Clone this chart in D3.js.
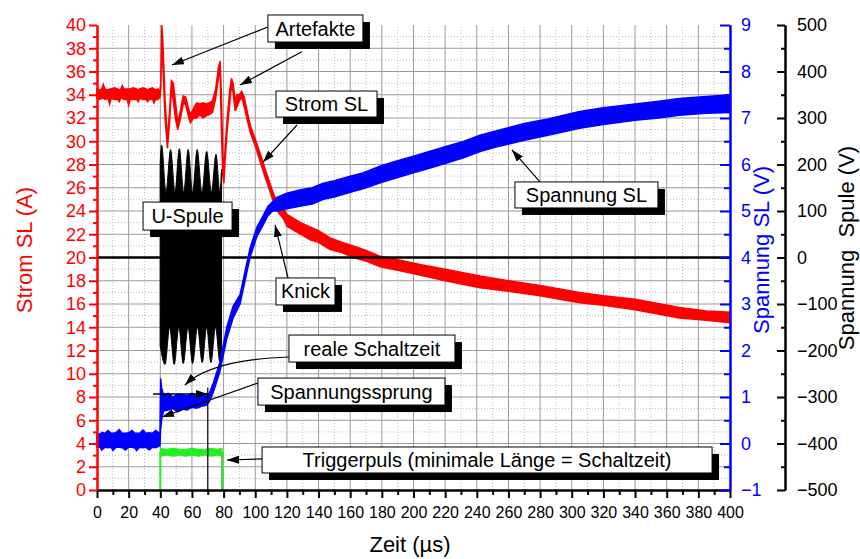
<!DOCTYPE html>
<html>
<head>
<meta charset="utf-8">
<script src="https://cdn.jsdelivr.net/npm/d3@7"></script>
<style>
body { margin: 0; background: #fff; }
text { font-family: "Liberation Sans", Arial, sans-serif; }
</style>
</head>
<body>
<div id="chart"></div>
<script>
// tick values of the four axes
var zeitTicks = d3.range(0, 401, 20);
var zeitMinor = d3.range(10, 400, 20);
var stromTicks = d3.range(0, 41, 2);
var stromMinor = d3.range(1, 40, 2);
var slTicks = d3.range(-1, 10, 1);
var slMinor = d3.range(-0.5, 9, 1);
var spuleTicks = d3.range(-500, 501, 100);
var spuleMinor = d3.range(-450, 500, 100);

// Strom SL (A): [zeit, unten, oben] - band of the noisy trace
var stromSL = [
  [0,33.7,34.5],[1.5,33.6,34.4],[3,33.7,34.5],[4,33.7,34.9],[5,33.6,34.5],[7,33.7,34.4],
  [8,33.2,34.5],[9,33.7,34.5],[11,33.6,34.6],[13,33.6,34.5],[14,33.4,34.4],[15,33.7,34.5],
  [16,33.7,34.8],[17,33.6,34.5],[19,33.6,34.5],[20,33.1,34.5],[21,33.6,34.5],[23,33.6,34.6],
  [25,33.6,34.5],[26,33.4,34.4],[27,33.7,34.5],[29,33.6,34.6],[31,33.6,34.5],[32,33.4,34.4],
  [33,33.6,34.5],[35,33.6,34.6],[36,33.3,34.5],[37,33.6,34.4],[38.5,33.6,34.5],[39.8,33.8,34.3],
  [40.3,34.5,35],[41,38.5,40],[41.8,36,38],[43,32,33.5],[44.5,29.4,30.2],[45.8,31.5,32.5],
  [47,34.5,35.2],[48.2,33.5,35],[49.5,32,33.5],[51,31,31.6],[52.5,31.8,32.5],[54.5,33.2,33.9],
  [56,33.2,33.8],[57.5,32.3,33],[59,31.6,32.3],[61,32,32.8],[63,32,33.3],[65,32.3,33.2],
  [67,32,33.3],[69,32.2,33.2],[71,32.3,33.3],[73,32.5,33.5],[75,33.7,34.5],[76.8,35.5,36.4],
  [77.8,36,36.9],[78.6,31,34],[79.5,27,29],[80.2,26.4,27.2],[81,28.5,29.5],[82.3,31,32],
  [84,33.5,34.5],[85,34.8,35.4],[86,34.2,35],[87.3,32.6,33.5],[88.5,33,34],[90,33.5,34],
  [91.4,33.8,34.3],[93,33,33.8],[95,31.8,32.5],[97,30.7,31.3],[100,29.6,30.2],[103,28.3,29],
  [106,27,27.7],[109,25.8,26.5],[112,24.6,25.3],[115,23.8,24.6],[118,23.3,24.2],
  [120,22.7,23.7],[125,22.3,23.3],[130,21.9,22.9],[135,21.5,22.6],[140,21.3,22.3],
  [147,20.7,21.7],[155,20.4,21.3],[162,20.0,21.0],[170,19.7,20.6],[179,19.2,20.1],
  [190,18.9,19.8],[204,18.5,19.4],[220,18.0,19.0],[242,17.4,18.4],[260,17.1,18.0],
  [280,16.7,17.6],[305,16.1,17.0],[320,15.9,16.7],[340,15.5,16.4],[368,14.8,15.7],
  [385,14.6,15.4],[400,14.4,15.3]
];

// Spannung SL (V): [zeit, unten, oben]
var spannungSL = [
  [0,-0.08,0.22],[2,-0.08,0.2],[3,-0.14,0.24],[5,-0.08,0.22],[7,-0.09,0.28],[9,-0.08,0.22],
  [10,-0.15,0.22],[12,-0.08,0.23],[14,-0.08,0.3],[16,-0.09,0.22],[18,-0.14,0.22],[20,-0.08,0.23],
  [22,-0.08,0.28],[24,-0.1,0.22],[25,-0.15,0.22],[27,-0.08,0.22],[29,-0.09,0.29],[31,-0.08,0.22],
  [33,-0.14,0.23],[35,-0.08,0.22],[37,-0.09,0.28],[39.8,-0.05,0.22],
  [40.2,0.3,1.4],[40.8,0.5,1.2],[42,0.7,1.05],[45,0.72,1.08],[48,0.75,1.0],[51,0.68,1.06],
  [54,0.74,1.05],[57,0.72,1.02],[60,0.78,1.08],[63,0.76,1.04],[66,0.8,1.05],[69,0.82,1.06],
  [71,0.9,1.08],[73.5,1.1,1.3],[77.7,1.55,1.75],[82,2.25,2.5],[86,2.7,2.95],[90.4,3.0,3.2],
  [96.7,4.0,4.2],[101,4.45,4.65],[105,4.7,4.9],[108,4.9,5.1],[111,5.0,5.2],
  [114,5.0,5.3],[120,5.05,5.38],[128,5.1,5.45],[136,5.15,5.5],[143,5.25,5.6],[150,5.3,5.65],
  [160,5.4,5.75],[168,5.48,5.82],[180,5.62,5.98],[190,5.72,6.08],[200,5.82,6.18],
  [210,5.92,6.28],[220,6.02,6.38],[232,6.15,6.5],[242,6.28,6.63],[255,6.4,6.75],
  [270,6.52,6.88],[285,6.63,6.98],[305,6.78,7.14],[320,6.86,7.22],[340,6.95,7.3],
  [355,7.0,7.36],[368,7.06,7.42],[385,7.1,7.46],[400,7.12,7.5]
];

// U-Spule (V): baseline and envelope of the burst
var spuleBasis = [[0,0],[39.9,0]];
var spuleBasis2 = [[78.7,0],[400,0]];
var spuleOben = [
  [39.9,200],[40.8,242],[43.6,140],[46.5,232],[49.3,140],[52.0,234],[54.8,140],[57.6,232],
  [60.4,140],[63.3,232],[66.3,140],[69.3,228],[72.3,140],[75.2,222],[77.6,140],[78.7,190]
];
var spuleUnten = [
  [39.9,-190],[43,-230],[45.9,-150],[48.8,-230],[51.7,-150],[54.5,-228],[57.5,-150],
  [60.4,-228],[63.5,-150],[66.5,-226],[69.3,-150],[72,-226],[74.9,-150],[77.7,-225],[78.7,-200]
];

// Triggerpuls (A scale): [zeit, unten, oben]
var trigger = [
  [40,2.9,3.6],[44,3.0,3.5],[48,2.9,3.6],[52,3.0,3.5],[56,2.9,3.5],[60,3.0,3.6],
  [64,2.9,3.5],[68,3.0,3.5],[72,2.9,3.6],[76,3.0,3.5],[79,2.9,3.6]
];
var triggerFlanken = [40, 79];

var svg = d3.select("#chart").append("svg").attr("width", 860).attr("height", 559);

var x = d3.scaleLinear().domain([0, 400]).range([97, 730]);
var yA = d3.scaleLinear().domain([0, 40]).range([490, 25]);
var yV = d3.scaleLinear().domain([-1, 9]).range([490, 25]);
var yS = d3.scaleLinear().domain([-500, 500]).range([490, 25]);

// grid
var grid = svg.append("g");
grid.selectAll(".vd").data(zeitMinor).enter().append("line")
  .attr("x1", d => x(d)).attr("x2", d => x(d)).attr("y1", yA(0)).attr("y2", yA(40))
  .attr("stroke", "#bdbdbd").attr("stroke-dasharray", "1,2");
grid.selectAll(".hd").data(stromMinor).enter().append("line")
  .attr("x1", x(0)).attr("x2", x(400)).attr("y1", d => yA(d)).attr("y2", d => yA(d))
  .attr("stroke", "#bdbdbd").attr("stroke-dasharray", "1,2");
grid.selectAll(".vs").data(zeitTicks.slice(1, -1)).enter().append("line")
  .attr("x1", d => x(d)).attr("x2", d => x(d)).attr("y1", yA(0)).attr("y2", yA(40))
  .attr("stroke", "#9a9a9a");
grid.selectAll(".hs").data(stromTicks.slice(1, -1)).enter().append("line")
  .attr("x1", x(0)).attr("x2", x(400)).attr("y1", d => yA(d)).attr("y2", d => yA(d))
  .attr("stroke", "#9a9a9a");

// series
function band(ys) {
  return d3.area().x(d => x(d[0])).y0(d => ys(d[1])).y1(d => ys(d[2]));
}

svg.append("path").datum(stromSL).attr("d", band(yA))
  .attr("fill", "#ff0000").attr("stroke", "#ff0000").attr("stroke-width", 1.5);

var lineS = d3.line().x(d => x(d[0])).y(d => yS(d[1]));
svg.append("path").datum(spuleBasis).attr("d", lineS)
  .attr("fill", "none").attr("stroke", "#000").attr("stroke-width", 2.5);
svg.append("path").datum(spuleBasis2).attr("d", lineS)
  .attr("fill", "none").attr("stroke", "#000").attr("stroke-width", 2.5);

// burst: upper and lower half filled from zero to the envelope
var burstArea = d3.area().x(d => x(d[0])).y0(yS(0)).y1(d => yS(d[1])).curve(d3.curveMonotoneX);
svg.append("path").datum(spuleOben).attr("d", burstArea)
  .attr("fill", "#000").attr("stroke", "#000").attr("stroke-width", 1);
svg.append("path").datum(spuleUnten).attr("d", burstArea)
  .attr("fill", "#000").attr("stroke", "#000").attr("stroke-width", 1);

svg.append("path").datum(spannungSL).attr("d", band(yV))
  .attr("fill", "#0000ff").attr("stroke", "#0000ff").attr("stroke-width", 1.5);

svg.append("path").datum(trigger).attr("d", band(yA))
  .attr("fill", "#22ee22").attr("stroke", "#22ee22").attr("stroke-width", 1);
svg.selectAll(".flanke").data(triggerFlanken).enter().append("line")
  .attr("x1", d => x(d)).attr("x2", d => x(d)).attr("y1", yA(0)).attr("y2", yA(3.3))
  .attr("stroke", "#22ee22").attr("stroke-width", 2);

// axes
function styleAxis(g, color, size) {
  g.select(".domain").attr("stroke", color).attr("stroke-width", 2);
  g.selectAll(".tick line").attr("stroke", color).attr("stroke-width", 2);
  g.selectAll("text").attr("fill", color).style("font-size", size + "px")
    .style("font-family", "'Liberation Sans', Arial, sans-serif");
}

var gx = svg.append("g").attr("transform", "translate(0,490)")
  .call(d3.axisBottom(x).tickValues(zeitTicks).tickSize(8).tickSizeOuter(0).tickPadding(9));
styleAxis(gx, "#000", 16);
var gx2 = svg.append("g").attr("transform", "translate(0,490)")
  .call(d3.axisBottom(x).tickValues(zeitMinor).tickSize(5).tickSizeOuter(0).tickFormat(""));
styleAxis(gx2, "#000", 16);

var gl = svg.append("g").attr("transform", "translate(97,0)")
  .call(d3.axisLeft(yA).tickValues(stromTicks).tickSize(8).tickSizeOuter(0).tickPadding(3));
styleAxis(gl, "#ff0000", 18);
var gl2 = svg.append("g").attr("transform", "translate(97,0)")
  .call(d3.axisLeft(yA).tickValues(stromMinor).tickSize(4).tickSizeOuter(0).tickFormat(""));
styleAxis(gl2, "#ff0000", 18);

var gb = svg.append("g").attr("transform", "translate(730,0)")
  .call(d3.axisRight(yV).tickValues(slTicks).tickSizeInner(-10).tickSizeOuter(0).tickPadding(11));
styleAxis(gb, "#0000ff", 18);
var gb2 = svg.append("g").attr("transform", "translate(730,0)")
  .call(d3.axisRight(yV).tickValues(slMinor).tickSizeInner(-6).tickSizeOuter(0).tickFormat(""));
styleAxis(gb2, "#0000ff", 18);

var gs = svg.append("g").attr("transform", "translate(785,0)")
  .call(d3.axisRight(yS).tickValues(spuleTicks).tickSizeInner(-8).tickSizeOuter(0).tickPadding(12));
styleAxis(gs, "#000", 18);
var gs2 = svg.append("g").attr("transform", "translate(785,0)")
  .call(d3.axisRight(yS).tickValues(spuleMinor).tickSizeInner(-4).tickSizeOuter(0).tickFormat(""));
styleAxis(gs2, "#000", 18);

// axis titles
svg.append("text").attr("transform", "translate(410,552)").attr("text-anchor", "middle")
  .style("font-size", "22px").text("Zeit (µs)");
svg.append("text").attr("transform", "translate(32,250) rotate(-90)").attr("text-anchor", "middle")
  .attr("fill", "#ff0000").style("font-size", "22px").text("Strom SL (A)");
svg.append("text").attr("transform", "translate(769,250) rotate(-90)").attr("text-anchor", "middle")
  .attr("fill", "#0000ff").style("font-size", "22px").text("Spannung SL (V)");
svg.append("text").attr("transform", "translate(854,248) rotate(-90)").attr("text-anchor", "middle")
  .attr("fill", "#000").style("font-size", "22px").style("white-space", "pre")
  .text("Spannung  Spule (V)");

// annotations
var defs = svg.append("defs");
defs.append("marker").attr("id", "pfeil").attr("viewBox", "0 0 12 8")
  .attr("refX", 12).attr("refY", 4).attr("markerWidth", 12).attr("markerHeight", 8)
  .attr("markerUnits", "userSpaceOnUse").attr("orient", "auto")
  .append("path").attr("d", "M0,0L12,4L0,8Z").attr("fill", "#000");

// vertical line at the real switching time and the horizontal arrow
svg.append("line").attr("x1", x(70)).attr("x2", x(70)).attr("y1", yA(0)).attr("y2", yA(8.8))
  .attr("stroke", "#000").attr("stroke-width", 1.2);
svg.append("line").attr("x1", x(35.4)).attr("x2", x(70)).attr("y1", yA(8.26)).attr("y2", yA(8.26))
  .attr("stroke", "#000").attr("stroke-width", 1.5).attr("marker-end", "url(#pfeil)");

var pfeile = [
  [[108, 39.83], [47.4, 36.56]],
  [[129.4, 37.7], [90.4, 34.84]],
  [[126.4, 31.4], [104.9, 28.2]],
  [[120.7, 18.24], [112.5, 22.8]],
  [[279.9, 26.5], [262.2, 29.25]],
  [[101.7, 9.2], [41.1, 6.28]],
  [[104.3, 2.67], [82.1, 2.58]]
];
svg.selectAll(".pfeil").data(pfeile).enter().append("line")
  .attr("x1", d => x(d[0][0])).attr("y1", d => yA(d[0][1]))
  .attr("x2", d => x(d[1][0])).attr("y2", d => yA(d[1][1]))
  .attr("stroke", "#000").attr("stroke-width", 1.2).attr("marker-end", "url(#pfeil)");

// curved arrow for "reale Schaltzeit"
var bogen = d3.path();
bogen.moveTo(x(121.3), yA(11.44));
bogen.quadraticCurveTo(x(72), yA(11.2), x(55.6), yA(9.03));
svg.append("path").attr("d", bogen.toString()).attr("fill", "none")
  .attr("stroke", "#000").attr("stroke-width", 1.2).attr("marker-end", "url(#pfeil)");

var labels = [
  {text: "Artefakte", t: 108, a: 40.86, w: 95, h: 27},
  {text: "Strom SL", t: 113.1, a: 34.32, w: 101, h: 26},
  {text: "U-Spule", t: 29.1, a: 24.77, w: 89, h: 28},
  {text: "Knick", t: 113.1, a: 18.24, w: 59, h: 27},
  {text: "Spannung SL", t: 264.1, a: 26.5, w: 143, h: 26},
  {text: "reale Schaltzeit", t: 121.3, a: 13.33, w: 166, h: 27},
  {text: "Spannungssprung", t: 101.7, a: 9.63, w: 187, h: 27},
  {text: "Triggerpuls (minimale Länge = Schaltzeit)", t: 104.3, a: 3.7, w: 450, h: 26}
];
var lab = svg.selectAll(".lab").data(labels).enter().append("g")
  .attr("transform", d => "translate(" + x(d.t) + "," + yA(d.a) + ")");
lab.append("rect").attr("x", 7).attr("y", 7).attr("width", d => d.w).attr("height", d => d.h)
  .attr("fill", "#000");
lab.append("rect").attr("width", d => d.w).attr("height", d => d.h)
  .attr("fill", "#fff").attr("stroke", "#000").attr("stroke-width", 1);
lab.append("text").attr("x", d => d.w / 2).attr("y", d => d.h / 2 + 7)
  .attr("text-anchor", "middle").style("font-size", "20px").text(d => d.text);
</script>
</body>
</html>
